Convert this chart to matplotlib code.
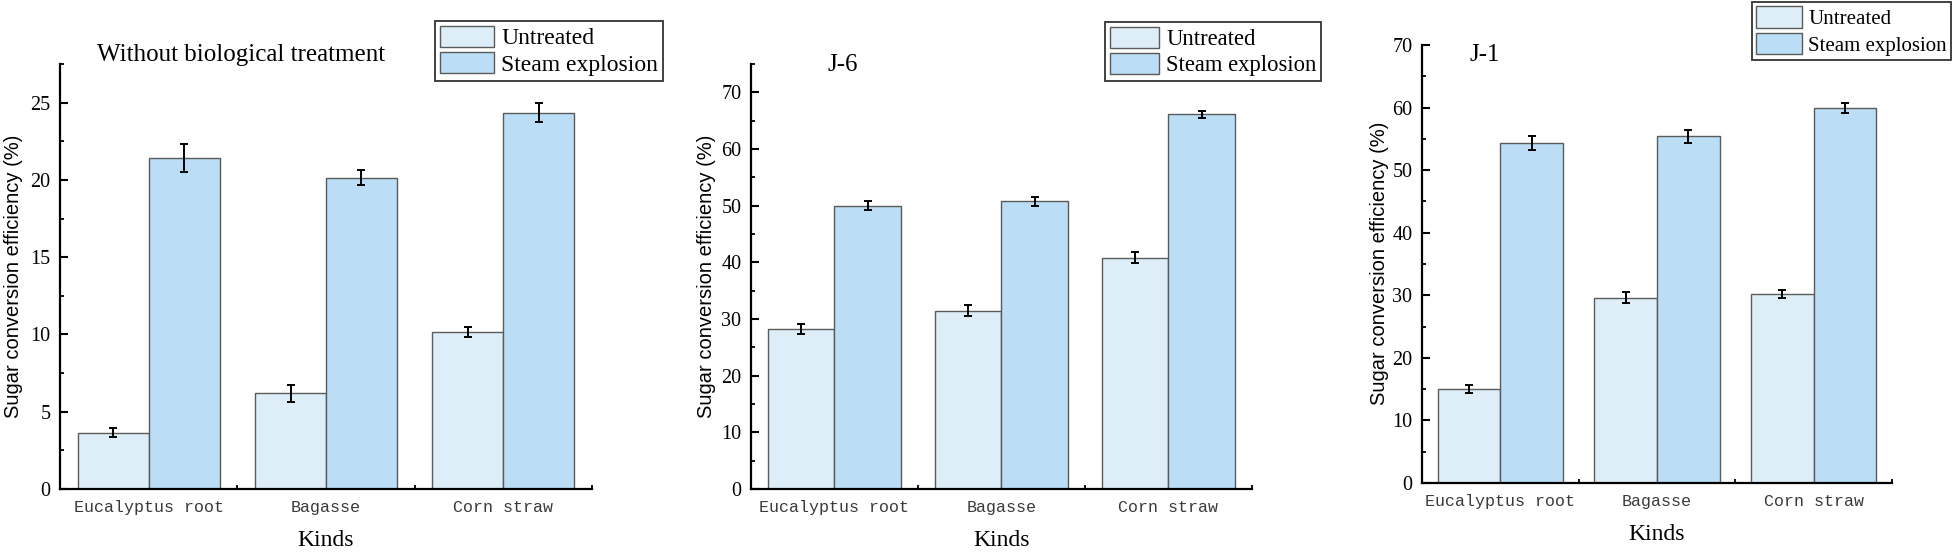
import matplotlib
matplotlib.use("Agg")
import matplotlib.pyplot as plt
import numpy as np
from matplotlib.ticker import MultipleLocator, FixedLocator

# ---------------- data ----------------
categories = ["Eucalyptus root", "Bagasse", "Corn straw"]
series_names = ["Untreated", "Steam explosion"]

titles = ["Without biological treatment", "J-6", "J-1"]

p1_untreated = [3.65, 6.2, 10.15]
p1_untreated_err = [0.3, 0.55, 0.32]
p1_steam = [21.4, 20.15, 24.35]
p1_steam_err = [0.9, 0.5, 0.6]

p2_untreated = [28.2, 31.5, 40.8]
p2_untreated_err = [0.85, 0.9, 1.0]
p2_steam = [50.0, 50.8, 66.1]
p2_steam_err = [0.78, 0.78, 0.55]

p3_untreated = [15.0, 29.6, 30.2]
p3_untreated_err = [0.65, 0.9, 0.7]
p3_steam = [54.3, 55.4, 60.0]
p3_steam_err = [1.1, 1.0, 0.8]

y_limits = [27.5, 75, 70]
y_major = [5, 10, 10]
y_minor = [2.5, 5, 5]

ylabel = "Sugar conversion efficiency (%)"
xlabel = "Kinds"

# ---------------- style ----------------
W, H = 1958, 554
col_untreated = "#DDEEF8"
col_steam = "#BBDDF5"
edge = "#5a5a5a"
serif = ["Liberation Serif", "DejaVu Serif"]
mono = ["Liberation Mono", "DejaVu Sans Mono"]
sans = ["Liberation Sans", "DejaVu Sans"]

fig = plt.figure(figsize=(W / 100, H / 100), dpi=100)

# axes boxes in pixels: left, right, top, bottom
boxes = [(60, 592, 64, 489), (751, 1252, 64, 489), (1422, 1892, 45, 483)]
legend_pos = [(435, 21), (1105, 22), (1752, 2)]
legend_fs = [17, 16.3, 15.0]
legend_hl = [2.3, 2.2, 2.2]
legend_hh = [1.0, 1.05, 1.2]
legend_ls = [0.12, 0.14, 0.2]
title_pos = [(241, 55), (843, 65), (1485, 55)]
ylabel_pos = [(14, 276), (707, 276), (1380, 263)]

data = [
    (p1_untreated, p1_untreated_err, p1_steam, p1_steam_err),
    (p2_untreated, p2_untreated_err, p2_steam, p2_steam_err),
    (p3_untreated, p3_untreated_err, p3_steam, p3_steam_err),
]

x = np.arange(len(categories))
bw = 0.4

for i in range(3):
    l, r, t, b = boxes[i]
    ax = fig.add_axes([l / W, 1 - b / H, (r - l) / W, (b - t) / H])
    u, ue, s, se = data[i]
    ekw = dict(ecolor="black", elinewidth=1.4, capsize=3, capthick=1.4)
    ax.bar(x - bw / 2, u, bw, yerr=ue, color=col_untreated, edgecolor=edge,
           linewidth=1.0, label=series_names[0], error_kw=ekw, zorder=2)
    ax.bar(x + bw / 2, s, bw, yerr=se, color=col_steam, edgecolor=edge,
           linewidth=1.0, label=series_names[1], error_kw=ekw, zorder=2)

    ax.set_xlim(-0.5, 2.5)
    ax.set_ylim(0, y_limits[i])
    ax.spines["top"].set_visible(False)
    ax.spines["right"].set_visible(False)
    for sp in ("left", "bottom"):
        ax.spines[sp].set_linewidth(1.6)
        ax.spines[sp].set_color("black")

    ax.yaxis.set_major_locator(MultipleLocator(y_major[i]))
    ax.yaxis.set_minor_locator(MultipleLocator(y_minor[i]))
    ax.tick_params(axis="y", which="major", direction="in", length=6, width=1.5,
                   pad=7, labelsize=14.5)
    ax.tick_params(axis="y", which="minor", direction="in", length=3, width=1.3)
    ax.set_xticks(x)
    ax.set_xticklabels(categories)
    ax.xaxis.set_minor_locator(FixedLocator([0.5, 1.5, 2.5]))
    ax.tick_params(axis="x", which="major", length=0, pad=8, labelsize=12,
                   labelcolor="#3a3a3a")
    ax.tick_params(axis="x", which="minor", direction="in", length=3, width=1.3)
    for lab in ax.get_yticklabels():
        lab.set_family(serif)
    for lab in ax.get_xticklabels():
        lab.set_family(mono)

    lx, ly = legend_pos[i]
    leg = ax.legend(loc="upper left", bbox_to_anchor=(lx / W, 1 - ly / H),
                    bbox_transform=fig.transFigure, frameon=True, fancybox=False,
                    prop={"family": serif, "size": legend_fs[i]},
                    handlelength=legend_hl[i], handleheight=legend_hh[i],
                    labelspacing=legend_ls[i],
                    borderpad=0.2, handletextpad=0.3, borderaxespad=0)
    leg.get_frame().set_edgecolor("black")
    leg.get_frame().set_linewidth(1.3)

    tx, ty = title_pos[i]
    fig.text(tx / W, 1 - ty / H, titles[i], ha="center", va="center",
             family=serif, fontsize=18)
    yx, yy = ylabel_pos[i]
    fig.text(yx / W, 1 - yy / H, ylabel, ha="center", va="center", rotation=90,
             family=sans, fontsize=14.5)
    fig.text((l + r) / 2 / W, 1 - (b + 52) / H, xlabel, ha="center", va="center",
             family=serif, fontsize=17)

fig.savefig("out.png", dpi=100)
